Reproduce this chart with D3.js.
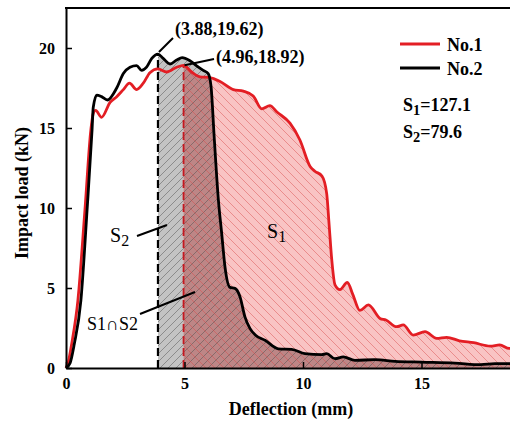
<!DOCTYPE html>
<html>
<head>
<meta charset="utf-8">
<script src="https://cdn.jsdelivr.net/npm/d3@7/dist/d3.min.js"></script>
<style>
  body { margin: 0; background: #fff; }
  svg { display: block; }
  text { font-family: "Liberation Serif", "Times New Roman", serif; }
</style>
</head>
<body>
<svg id="chart" width="510" height="423"></svg>
<script>
// No.1 (red) load–deflection curve, [deflection mm, load kN]
var no1 = [[0,0],[0.1,0.4],[0.25,1.6],[0.5,4.2],[0.8,9.9],[1.05,14.9],[1.15,15.9],[1.25,16.1],[1.5,15.67],
  [1.86,16.6],[2.14,16.96],[2.42,17.4],[2.68,17.8],[2.98,17.4],[3.26,17.8],[3.54,18.46],[3.88,18.7],
  [4.25,18.5],[4.67,18.8],[4.96,18.92],[5.3,18.5],[5.65,18.2],[6.08,18.15],[6.5,17.9],[7.06,17.4],
  [7.48,17.3],[7.9,17.0],[8.26,16.2],[8.6,16.4],[8.9,16.0],[9.45,15.3],[9.87,14.25],[10.3,12.6],
  [10.5,12.3],[10.8,12.0],[11.0,10.9],[11.1,9.0],[11.2,7.0],[11.35,5.2],[11.56,4.9],[11.87,5.35],
  [12.1,4.6],[12.4,3.6],[12.76,3.94],[13.25,3.1],[13.5,3.0],[13.95,2.58],[14.23,2.69],[14.65,2.06],
  [15.15,2.27],[15.64,1.85],[16.06,1.92],[16.6,1.7],[17.2,1.58],[17.9,1.37],[18.3,1.44],[18.7,1.23],
  [19.3,1.3],[20,1.1]];

// No.2 (black)
var no2 = [[0,0],[0.17,0.3],[0.35,1.5],[0.63,4.25],[0.89,9.9],[1.1,14.9],[1.15,16.3],[1.3,17.06],
  [1.5,16.96],[1.75,16.75],[2.14,17.5],[2.42,18.4],[2.7,18.8],[2.98,18.9],[3.19,18.6],[3.4,18.8],
  [3.62,19.35],[3.88,19.62],[4.1,19.35],[4.39,19.0],[4.67,19.25],[4.9,19.4],[5.23,19.2],[5.5,18.9],
  [5.79,18.6],[6.0,18.4],[6.12,17.6],[6.25,14.5],[6.43,10.5],[6.57,8.4],[6.71,6.3],[6.92,5.04],
  [7.13,4.98],[7.34,4.46],[7.55,3.2],[7.76,2.48],[8.0,2.05],[8.4,1.73],[8.96,1.2],[9.52,1.17],
  [10.08,0.9],[10.79,0.83],[11.0,0.9],[11.35,0.58],[11.7,0.69],[12.19,0.48],[13.04,0.52],
  [13.88,0.42],[15.0,0.37],[16.4,0.31],[17.5,0.21],[18.1,0.27],[18.7,0.27],[20,0.3]];

var peak2 = [3.88, 19.62];
var peak1 = [4.96, 18.92];
var xTicks = [0, 5, 10, 15];
var yTicks = [0, 5, 10, 15, 20];
var areaS1 = '127.1';
var areaS2 = '79.6';

(function() {
var svg = d3.select('#chart');
var left = 66, bottom = 368, plotTop = 8;

var x = d3.scaleLinear().domain([0, 20]).range([left, left + 20 * 23.7]);
var y = d3.scaleLinear().domain([0, 22.5]).range([bottom, plotTop]);

var defs = svg.append('defs');

function hatch(id, d, color, size) {
    var p = defs.append('pattern')
        .attr('id', id)
        .attr('patternUnits', 'userSpaceOnUse')
        .attr('width', size).attr('height', size);
    p.append('path').attr('d', d).attr('stroke', color).attr('stroke-width', 1).attr('fill', 'none');
}
hatch('hGray', 'M-2,2L2,-2M0,8L8,0M6,10L10,6', 'rgba(70,70,70,0.45)', 8);
hatch('hPink', 'M-2,7L2,11M0,0L9,9M7,-2L11,2', 'rgba(215,70,70,0.45)', 9);

var area = d3.area()
    .x(function(d) { return x(d[0]); })
    .y0(y(0))
    .y1(function(d) { return y(d[1]); })
    .curve(d3.curveMonotoneX);

var line = d3.line()
    .x(function(d) { return x(d[0]); })
    .y(function(d) { return y(d[1]); })
    .curve(d3.curveMonotoneX);

defs.append('clipPath').attr('id', 'cS2')
    .append('rect').attr('x', x(peak2[0])).attr('y', 0).attr('width', 600).attr('height', bottom);
defs.append('clipPath').attr('id', 'cS1')
    .append('rect').attr('x', x(peak1[0])).attr('y', 0).attr('width', 600).attr('height', bottom);
defs.append('clipPath').attr('id', 'cRed')
    .append('path').datum(no1).attr('d', area);

var gS2 = svg.append('g').attr('clip-path', 'url(#cS2)');
var gS1 = svg.append('g').attr('clip-path', 'url(#cS1)');

gS2.append('path').datum(no2).attr('d', area).attr('fill', '#c3c3c3');
gS1.append('path').datum(no1).attr('d', area).attr('fill', '#f9c4c4');
gS1.append('path').datum(no2).attr('d', area).attr('clip-path', 'url(#cRed)').attr('fill', '#bd8686');

var gS2h = svg.append('g').attr('clip-path', 'url(#cS2)');
gS2h.append('path').datum(no2).attr('d', area).attr('fill', 'url(#hGray)');
var gS1h = svg.append('g').attr('clip-path', 'url(#cS1)');
gS1h.append('path').datum(no1).attr('d', area).attr('fill', 'url(#hPink)');

// dashed markers at the peaks
svg.append('line')
    .attr('x1', x(peak2[0])).attr('x2', x(peak2[0]))
    .attr('y1', y(0)).attr('y2', y(peak2[1]))
    .attr('stroke', '#000').attr('stroke-width', 2.2).attr('stroke-dasharray', '8,4');
svg.append('line')
    .attr('x1', x(peak1[0])).attr('x2', x(peak1[0]))
    .attr('y1', y(0)).attr('y2', y(peak1[1]))
    .attr('stroke', '#c41820').attr('stroke-width', 1.8).attr('stroke-dasharray', '8,4');

svg.append('path').datum(no1).attr('d', line)
    .attr('fill', 'none').attr('stroke', '#e31e24').attr('stroke-width', 2.8);
svg.append('path').datum(no2).attr('d', line)
    .attr('fill', 'none').attr('stroke', '#000').attr('stroke-width', 2.8);

// axes, ticks pointing inward
var xAxis = svg.append('g')
    .attr('transform', 'translate(0,' + bottom + ')')
    .call(d3.axisBottom(x).tickValues(xTicks).tickSizeInner(-6).tickSizeOuter(0).tickPadding(10));
var yAxis = svg.append('g')
    .attr('transform', 'translate(' + left + ',0)')
    .call(d3.axisLeft(y).tickValues(yTicks).tickSizeInner(-6).tickSizeOuter(0).tickPadding(11));

[xAxis, yAxis].forEach(function(a) {
    a.select('.domain').attr('stroke-width', 2);
    a.selectAll('.tick line').attr('stroke-width', 1.5);
    a.selectAll('text')
        .attr('font-family', '"Liberation Serif", serif')
        .attr('font-weight', 'bold')
        .attr('font-size', 16)
        .attr('fill', '#000');
});

svg.append('line')
    .attr('x1', left - 1).attr('x2', 510)
    .attr('y1', plotTop).attr('y2', plotTop)
    .attr('stroke', '#000').attr('stroke-width', 2);

svg.append('text')
    .attr('x', 291).attr('y', 415)
    .attr('text-anchor', 'middle')
    .attr('font-weight', 'bold').attr('font-size', 18)
    .text('Deflection (mm)');

svg.append('text')
    .attr('transform', 'translate(28,193) rotate(-90)')
    .attr('text-anchor', 'middle')
    .attr('font-weight', 'bold').attr('font-size', 18)
    .text('Impact load (kN)');

// peak annotations
function leader(x1, y1, x2, y2) {
    svg.append('line')
        .attr('x1', x1).attr('y1', y1).attr('x2', x2).attr('y2', y2)
        .attr('stroke', '#000').attr('stroke-width', 2);
}

leader(x(peak2[0]) + 1, y(peak2[1]) - 2, 173, 38);
svg.append('text')
    .attr('x', 175).attr('y', 35)
    .attr('font-weight', 'bold').attr('font-size', 18)
    .text('(' + peak2[0].toFixed(2) + ',' + peak2[1].toFixed(2) + ')');

leader(x(peak1[0]) + 1, y(peak1[1]), 214, 59);
svg.append('text')
    .attr('x', 216).attr('y', 63)
    .attr('font-weight', 'bold').attr('font-size', 18)
    .text('(' + peak1[0].toFixed(2) + ',' + peak1[1].toFixed(2) + ')');

// region labels
function subLabel(tx, ty, main, sub, size, weight) {
    var t = svg.append('text')
        .attr('x', tx).attr('y', ty)
        .attr('font-size', size).attr('font-weight', weight);
    t.append('tspan').text(main);
    t.append('tspan').attr('dy', 4).attr('font-size', size * 0.8).text(sub);
    return t;
}

subLabel(110, 242, 'S', '2', 20, 'normal');
leader(137, 236, 167, 225);

svg.append('text')
    .attr('x', 87).attr('y', 330)
    .attr('font-size', 18)
    .text('S1\u2229S2');
leader(140, 314, 195, 292);

subLabel(267, 238, 'S', '1', 20, 'normal');

// legend
var legend = [['No.1', '#e31e24', 44], ['No.2', '#000', 68]];
legend.forEach(function(l) {
    svg.append('line')
        .attr('x1', 400).attr('x2', 440)
        .attr('y1', l[2]).attr('y2', l[2])
        .attr('stroke', l[1]).attr('stroke-width', 3);
    svg.append('text')
        .attr('x', 447).attr('y', l[2] + 7)
        .attr('font-weight', 'bold').attr('font-size', 18)
        .text(l[0]);
});

var s1 = subLabel(403, 111, 'S', '1', 18, 'bold');
s1.append('tspan').attr('dy', -4).attr('font-size', 18).text('=' + areaS1);
var s2 = subLabel(403, 138, 'S', '2', 18, 'bold');
s2.append('tspan').attr('dy', -4).attr('font-size', 18).text('=' + areaS2);
})();
</script>
</body>
</html>
